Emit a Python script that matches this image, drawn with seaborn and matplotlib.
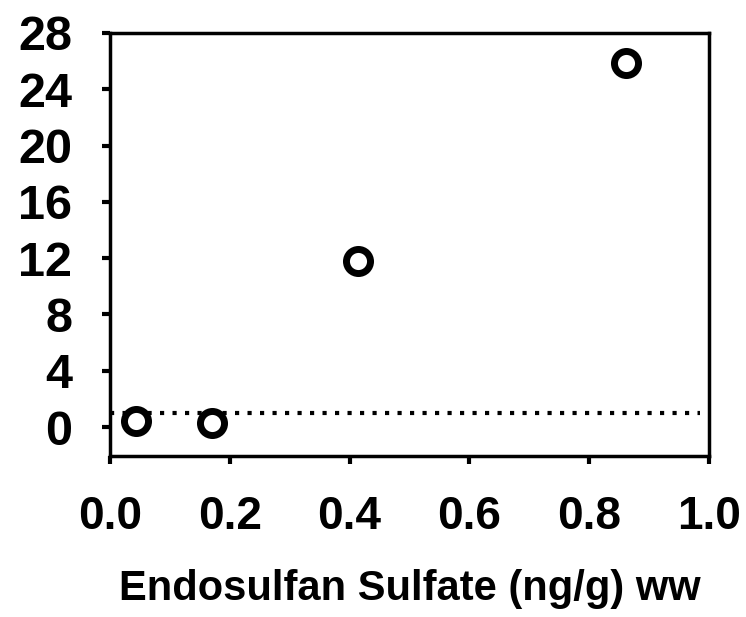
import matplotlib
matplotlib.use("Agg")
import matplotlib.pyplot as plt
import seaborn as sns
import pandas as pd

# Measured concentrations and response
endosulfan_sulfate = [0.043, 0.170, 0.414, 0.861]
response = [0.45, 0.26, 11.8, 25.9]
reference_level = 1.0

x_ticks = [0.0, 0.2, 0.4, 0.6, 0.8, 1.0]
y_ticks = [0, 4, 8, 12, 16, 20, 24, 28]

df = pd.DataFrame({"x": endosulfan_sulfate, "y": response})

sns.set_theme(style="white")
plt.rcParams["font.family"] = ["Liberation Sans", "DejaVu Sans"]

fig = plt.figure(figsize=(7.46, 6.17), dpi=100)
ax = fig.add_axes([110 / 746, 1 - 456 / 617, (709 - 110) / 746, (456 - 33) / 617])

ax.axhline(reference_level, xmax=0.985, color="black", linestyle=(0, (1, 2)),
           linewidth=3, zorder=1)
sns.scatterplot(data=df, x="x", y="y", ax=ax, s=300, marker="o",
                facecolor="white", edgecolor="black", linewidth=5, zorder=3)

ax.set_xlim(0, 1.0)
ax.set_ylim(-2.06, 28)
ax.set_xticks(x_ticks)
ax.set_xticklabels([f"{t:.1f}" for t in x_ticks], fontsize=33, fontweight="bold")
ax.set_yticks(y_ticks)
ax.set_yticklabels([str(t) for t in y_ticks], fontsize=35, fontweight="bold")
ax.tick_params(axis="x", direction="out", length=6, width=3, pad=22, bottom=True, colors="black")
ax.tick_params(axis="y", direction="out", length=6, width=3, pad=21, left=True, colors="black")

for side in ["left", "right", "top", "bottom"]:
    ax.spines[side].set_visible(True)
    ax.spines[side].set_color("black")
    ax.spines[side].set_linewidth(2.5)

ax.set_xlabel("Endosulfan Sulfate (ng/g) ww", fontsize=30, fontweight="bold",
              color="black", labelpad=22)
ax.set_ylabel("")

fig.savefig("out.png", dpi=100, facecolor="white")
